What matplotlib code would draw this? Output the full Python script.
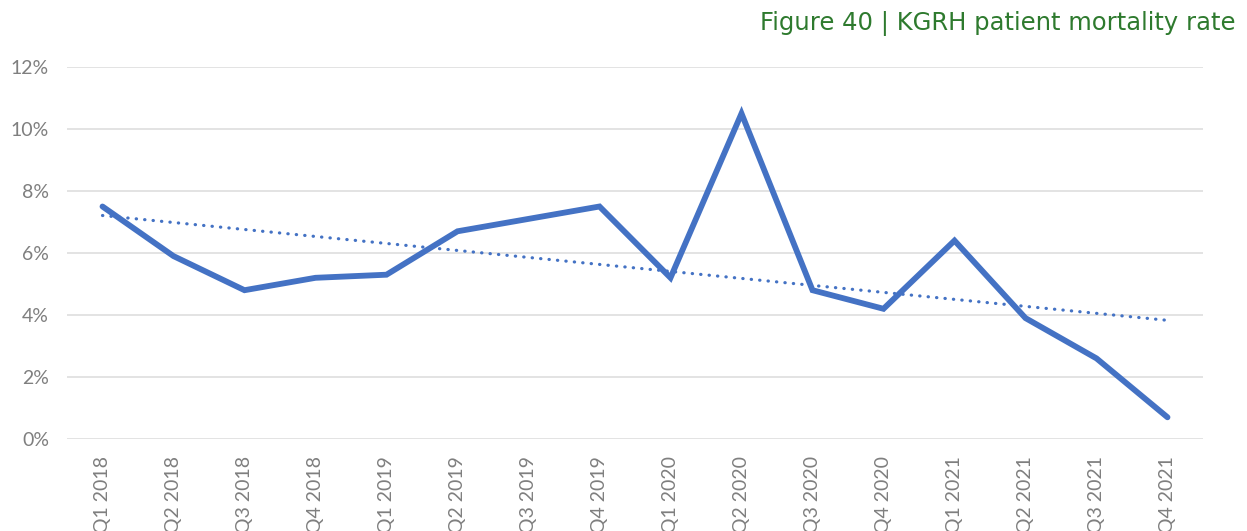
import numpy as np
import matplotlib.pyplot as plt
from matplotlib.ticker import PercentFormatter

# quarterly patient mortality rate (%)
quarters = ["Q1 2018", "Q2 2018", "Q3 2018", "Q4 2018",
            "Q1 2019", "Q2 2019", "Q3 2019", "Q4 2019",
            "Q1 2020", "Q2 2020", "Q3 2020", "Q4 2020",
            "Q1 2021", "Q2 2021", "Q3 2021", "Q4 2021"]
mortality = [7.5, 5.9, 4.8, 5.2, 5.3, 6.7, 7.1, 7.5,
             5.2, 10.5, 4.8, 4.2, 6.4, 3.9, 2.6, 0.7]

blue = "#4472C4"
grey = "#7F7F7F"

fig = plt.figure(figsize=(12.47, 5.31), dpi=100)
ax = fig.add_axes([67 / 1247, 92 / 531, (1203 - 67) / 1247, 372 / 531])

x = np.arange(len(quarters))
y = np.array(mortality)

ax.plot(x, y, color=blue, lw=4.2, solid_capstyle="round", solid_joinstyle="miter", zorder=3)

# linear trend line
slope, icpt = np.polyfit(x, y, 1)
ax.plot(x, slope * x + icpt, color=blue, lw=2.3, linestyle=(0, (0.1, 2.55)),
        dash_capstyle="round", zorder=2)

ax.set_xlim(-0.5, len(quarters) - 0.5)
ax.set_ylim(0, 12)
ax.set_yticks(np.arange(0, 13, 2))
ax.yaxis.set_major_formatter(PercentFormatter(decimals=0))
ax.set_xticks(x)
ax.set_xticklabels(quarters, rotation=90, va="top", ha="center")

ax.grid(axis="y", color="#E0E0E0", lw=1.3)
ax.set_axisbelow(True)
for s in ax.spines.values():
    s.set_visible(False)
ax.tick_params(length=0, colors=grey, labelsize=14)
ax.tick_params(axis="y", pad=13)
ax.tick_params(axis="x", pad=12)
for lbl in ax.get_xticklabels() + ax.get_yticklabels():
    lbl.set_fontfamily("Lato")

fig.text(1235 / 1247, 1 - 24 / 531, "Figure 40 | KGRH patient mortality rate",
         ha="right", va="center", color="#2E7A2E", fontsize=17.5,
         fontfamily="DejaVu Sans")

fig.savefig("out.png", dpi=100)
